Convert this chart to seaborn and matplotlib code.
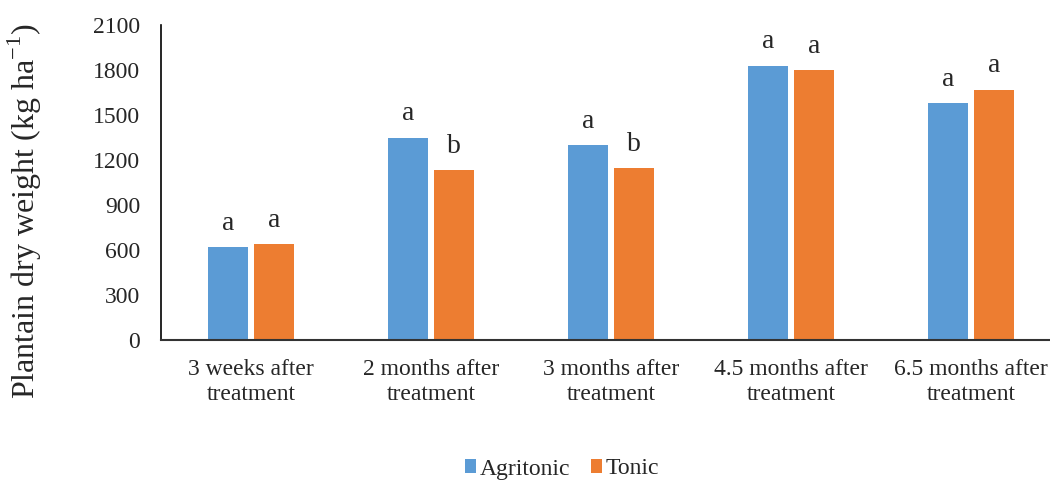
import numpy as np
import pandas as pd
import matplotlib
matplotlib.use("Agg")
import matplotlib.pyplot as plt
import seaborn as sns

categories = ["3 weeks after\ntreatment", "2 months after\ntreatment", "3 months after\ntreatment",
              "4.5 months after\ntreatment", "6.5 months after\ntreatment"]
agritonic = [622, 1350, 1300, 1830, 1582]
tonic = [640, 1135, 1148, 1800, 1670]
letters_agritonic = ["a", "a", "a", "a", "a"]
letters_tonic = ["a", "b", "b", "a", "a"]
series_names = ["Agritonic", "Tonic"]
colors = ["#5B9BD5", "#ED7D31"]
yticks = [0, 300, 600, 900, 1200, 1500, 1800, 2100]

df = pd.DataFrame({
    "category": categories * 2,
    "value": agritonic + tonic,
    "series": [series_names[0]] * len(categories) + [series_names[1]] * len(categories),
})

sns.set_style("white")
plt.rcParams["font.family"] = ["Liberation Serif", "DejaVu Serif"]

fig = plt.figure(figsize=(10.5, 4.82), dpi=100)
ax = fig.add_axes([161 / 1050, 1 - 340 / 482, 900 / 1050, 315 / 482])

sns.barplot(data=df, x="category", y="value", hue="series", palette=colors,
            width=0.506, gap=0.12, ax=ax, legend=True, saturation=1, errorbar=None,
            edgecolor="none")

ax.set_ylim(0, 2100)
ax.set_xlim(-0.5, len(categories) - 0.5)
ax.set_yticks(yticks)
ax.set_yticklabels([str(t) for t in yticks], fontsize=17)
ax.tick_params(axis="x", labelsize=17, length=0, pad=14)
ax.tick_params(axis="y", length=0, pad=15)
for lab in ax.get_xticklabels():
    lab.set_linespacing(1.25)
ax.set_xlabel("")
ax.set_ylabel("Plantain dry weight (kg ha$^{\\mathregular{-1}}$)", fontsize=23)
ax.yaxis.set_label_coords((44 - 161) / 900, (340 - 211) / 315)

for s in ["top", "right"]:
    ax.spines[s].set_visible(False)
ax.spines["left"].set_color("black")
ax.spines["left"].set_linewidth(1.2)
ax.spines["bottom"].set_color("#333333")
ax.spines["bottom"].set_linewidth(1.5)

# significance letters
for cont, letters in zip(ax.containers, [letters_agritonic, letters_tonic]):
    for bar, lt in zip(cont, letters):
        ax.annotate(lt, (bar.get_x() + bar.get_width() / 2, bar.get_height()),
                    xytext=(0, 8), textcoords="offset points",
                    ha="center", va="bottom", fontsize=20)

leg = ax.get_legend()
handles = leg.legend_handles
leg.remove()
fig.legend(handles, series_names, loc="center", bbox_to_anchor=(562 / 1050, 1 - 469 / 482),
           ncol=2, frameon=False, fontsize=17, handlelength=0.5, handleheight=0.5,
           handletextpad=0.15, columnspacing=0.85)

fig.savefig("out.png", dpi=100)
